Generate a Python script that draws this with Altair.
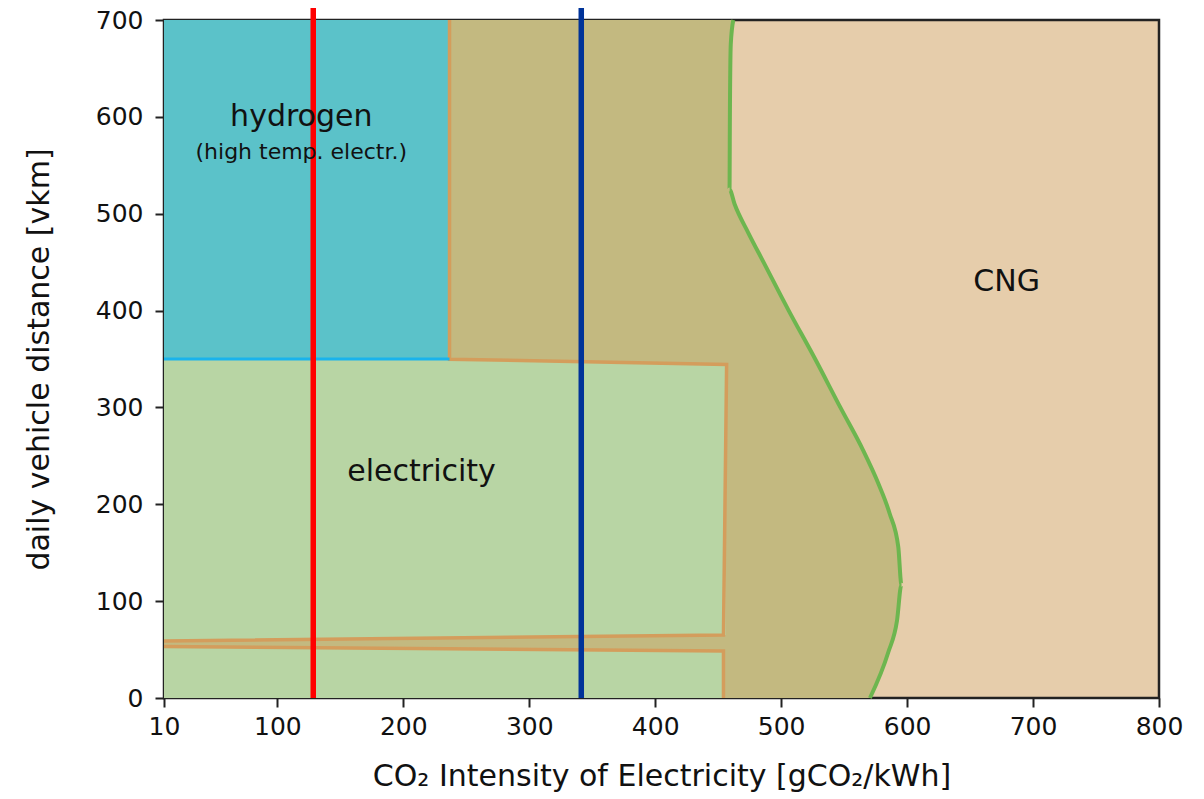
import altair as alt
import pandas as pd

# ---- data ----
x_ticks = [10, 100, 200, 300, 400, 500, 600, 700, 800]
y_ticks = [0, 100, 200, 300, 400, 500, 600, 700]

# boundary between the olive region and CNG (x as a function of y)
curve_y = [700, 675, 600, 525, 510, 480, 450, 400, 350, 300, 256, 222, 191, 156, 117, 80, 47, 0]
curve_x = [462, 460, 459.3, 459, 463, 474, 486, 506, 527, 547, 565, 577, 586, 593, 595.5, 592, 585, 570.5]

# hydrogen block
h2_x = [10, 236.7]
h2_y = [350, 700]

# electricity (upper polygon)
el_up_x = [10, 236.7, 456]
el_up_top = [350, 349.8, 344.4]
el_up_bot = [58.8, 62, 65]
# electricity (lower polygon)
el_lo_x = [10, 454.2]
el_lo_top = [53.2, 48.5]
el_lo_bot = [0, 0]

# orange outlines
outline_a_x = [236.7, 236.7, 456.7, 454.2, 10]
outline_a_y = [700, 349.8, 344.4, 65, 58.8]
outline_b_x = [10, 454.2, 454.2]
outline_b_y = [53.2, 48.5, 0]

# light blue boundary
h2_line_x = [10, 236.7]
h2_line_y = [350, 350]

# vertical reference lines
ref_x = [128.5, 341.3]
ref_color = ["#ff0000", "#003399"]

# labels
lab_text = ["hydrogen", "(high temp. electr.)", "electricity", "CNG"]
lab_x = [119, 119, 214.5, 679]
lab_y = [600, 563.5, 233, 429.5]
lab_size = [30, 22, 30, 30]

# ---- scales ----
xs = alt.Scale(domain=[10, 800], nice=False, zero=False)
ys = alt.Scale(domain=[0, 700], nice=False, zero=False)

X = lambda f, **kw: alt.X(f, type="quantitative", scale=xs, **kw)
Y = lambda f, **kw: alt.Y(f, type="quantitative", scale=ys, **kw)

base_axes_x = alt.Axis(values=x_ticks, grid=False, labelFlush=False,
                       title="CO₂ Intensity of Electricity [gCO₂/kWh]")
base_axes_y = alt.Axis(values=y_ticks, grid=False, labelFlush=False,
                       title="daily vehicle distance [vkm]")

# olive region: horizontal area between x=10 and the curve
olive_df = pd.DataFrame({"y": curve_y[::-1], "x": curve_x[::-1], "b": [10] * len(curve_y)})
olive = alt.Chart(olive_df).mark_area(orient="horizontal", color="#c3b980", interpolate="monotone").encode(
    y=Y("y", axis=base_axes_y),
    x=X("x", axis=base_axes_x, stack=None),
    x2=alt.X2("b"),
)

h2_df = pd.DataFrame({"x": [h2_x[0]], "x2": [h2_x[1]], "y": [h2_y[0]], "y2": [h2_y[1]]})
h2 = alt.Chart(h2_df).mark_rect(color="#5bc2c9").encode(
    x=X("x"), x2="x2", y=Y("y"), y2="y2"
)

el_up_df = pd.DataFrame({"x": el_up_x, "t": el_up_top, "b": el_up_bot})
el_up = alt.Chart(el_up_df).mark_area(color="#b8d5a4").encode(
    x=X("x"), y=Y("t", stack=None), y2="b"
)
el_lo_df = pd.DataFrame({"x": el_lo_x, "t": el_lo_top, "b": el_lo_bot})
el_lo = alt.Chart(el_lo_df).mark_area(color="#b8d5a4").encode(
    x=X("x"), y=Y("t", stack=None), y2="b"
)

out_rows = []
for i, (xx, yy) in enumerate(zip(outline_a_x, outline_a_y)):
    out_rows.append({"seg": "a", "o": i, "x": xx, "y": yy})
for i, (xx, yy) in enumerate(zip(outline_b_x, outline_b_y)):
    out_rows.append({"seg": "b", "o": i, "x": xx, "y": yy})
out_df = pd.DataFrame(out_rows)
outline = alt.Chart(out_df).mark_line(color="#d49d5c", strokeWidth=3.5, strokeJoin="miter").encode(
    x=X("x"), y=Y("y"), detail="seg:N", order="o:Q"
)

h2l_df = pd.DataFrame({"x": h2_line_x, "y": h2_line_y, "o": [0, 1]})
h2line = alt.Chart(h2l_df).mark_line(color="#1ab3ec", strokeWidth=3).encode(
    x=X("x"), y=Y("y"), order="o:Q"
)

curve_df = pd.DataFrame({"x": curve_x[::-1], "y": curve_y[::-1]})
curve = alt.Chart(curve_df).mark_line(color="#6db64f", strokeWidth=4, interpolate="monotone",
                                      orient="horizontal").encode(
    x=X("x"), y=Y("y")
)

ref_df = pd.DataFrame({"x": ref_x, "c": ref_color, "y": [0, 0], "y2": [722, 722]})
refs = alt.Chart(ref_df).mark_rule(strokeWidth=5.5).encode(
    x=X("x"), y=Y("y"), y2="y2", color=alt.Color("c:N", scale=None)
)

lab_df = pd.DataFrame({"t": lab_text, "x": lab_x, "y": lab_y, "s": lab_size})
labels = alt.layer(*[
    alt.Chart(lab_df.iloc[[i]]).mark_text(font="DejaVu Sans", color="#111111", align="center",
                                           baseline="middle", fontSize=lab_size[i]).encode(
        x=X("x"), y=Y("y"), text="t:N")
    for i in range(len(lab_text))
])

chart = alt.layer(olive, h2, el_up, el_lo, outline, h2line, curve, refs, labels).properties(
    width=995, height=678,
    autosize=alt.AutoSizeParams(type="none"),
    padding={"left": 156, "top": 12, "right": 37, "bottom": 102},
    background="white",
).configure_view(
    fill="#e6cdab", stroke="#222222", strokeWidth=2.5
).configure_axis(
    labelFont="DejaVu Sans", labelFontSize=25, labelColor="#111111",
    titleFont="DejaVu Sans", titleFontSize=30, titleFontWeight="normal", titleColor="#111111",
    tickColor="#222222", tickWidth=2, tickSize=9, domain=False,
).configure_axisX(titlePadding=22, labelPadding=7).configure_axisY(titlePadding=41, labelPadding=12)

chart.save("out.html", embed_options={"renderer": "svg", "actions": False})
